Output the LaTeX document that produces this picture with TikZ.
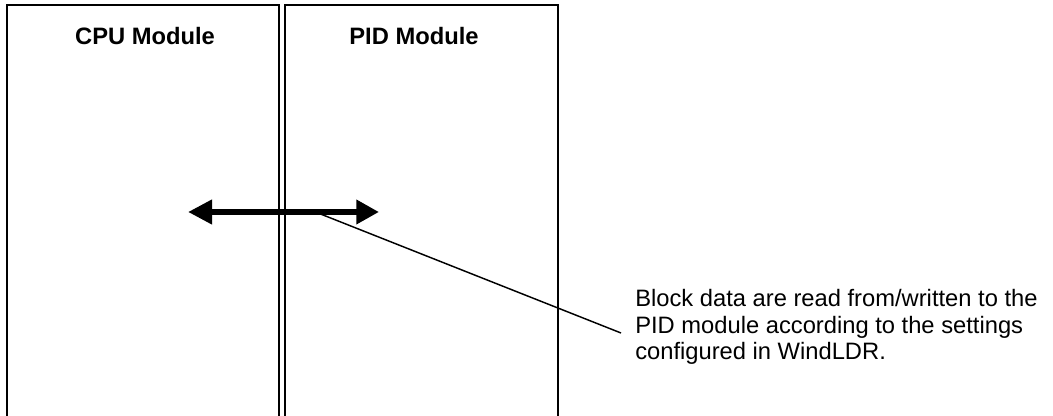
\documentclass[tikz,border=0pt]{standalone}
\usepackage{fontspec}
\setmainfont{Liberation Sans}
\usetikzlibrary{arrows.meta}

\begin{document}
\begin{tikzpicture}[x=0.75pt, y=-0.75pt,
  modbox/.style={line width=1.4pt},
  title/.style={anchor=base, font=\fontsize{17.8}{20}\selectfont\bfseries, inner sep=0pt},
  dataarrow/.style={line width=5.2pt, {Triangle[length=18pt,width=17.5pt]}-{Triangle[length=17pt,width=17.5pt]}},
  leader/.style={line width=1.1pt},
  note/.style={anchor=base west, align=left, inner sep=0pt, font=\fontsize{17.8}{19.9}\selectfont}]
\useasboundingbox (0,0) rectangle (1053,416);
\clip (0,0) rectangle (1053,416);
% the two modules, cut off at the bottom
\draw[modbox] (7,5) rectangle (279,440);
\draw[modbox] (285,5) rectangle (558,440);
\node[title] (cputitle) at (145,45) {CPU Module};
\node[title] (pidtitle) at (414,45) {PID Module};
% block data transfer
\coordinate (lt) at (188,212);
\coordinate (rt) at (379,212);
\draw[dataarrow] (lt) -- (rt);
\coordinate (tap) at (318,213);
\coordinate (lead) at (621,333);
\draw[leader] (tap) -- (lead);
% base anchor sits on the last line
\node[note] (notetext) at (635,360) {Block data are read from/written to the\\PID module according to the settings\\configured in WindLDR.};
\end{tikzpicture}
\end{document}
